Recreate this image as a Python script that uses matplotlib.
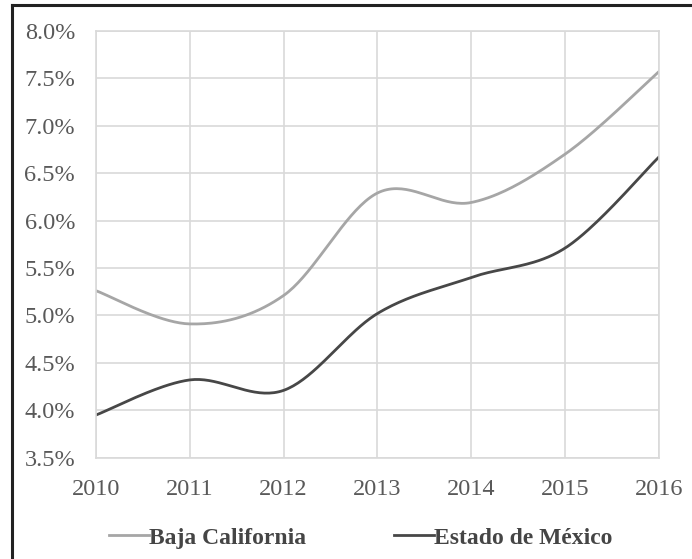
import numpy as np
import matplotlib
matplotlib.use("Agg")
import matplotlib.pyplot as plt
from matplotlib.lines import Line2D
from matplotlib.ticker import FuncFormatter

years = [2010, 2011, 2012, 2013, 2014, 2015, 2016]
baja_california = [5.26, 4.91, 5.21, 6.29, 6.19, 6.70, 7.57]
estado_de_mexico = [3.95, 4.32, 4.21, 5.02, 5.40, 5.71, 6.67]
y_ticks = [3.5, 4.0, 4.5, 5.0, 5.5, 6.0, 6.5, 7.0, 7.5, 8.0]


def smooth(x, y, steps=40):
    """Catmull-Rom style smoothing through every data point."""
    x = np.asarray(x, float)
    y = np.asarray(y, float)
    px = np.concatenate([[x[0]], x, [x[-1]]])
    py = np.concatenate([[y[0]], y, [y[-1]]])
    xs, ys = [], []
    t = np.linspace(0, 1, steps)
    for i in range(1, len(px) - 2):
        p0 = np.array([px[i], py[i]])
        p3 = np.array([px[i + 1], py[i + 1]])
        c1 = p0 + (np.array([px[i + 1], py[i + 1]]) - np.array([px[i - 1], py[i - 1]])) / 6
        c2 = p3 - (np.array([px[i + 2], py[i + 2]]) - np.array([px[i], py[i]])) / 6
        b = ((1 - t) ** 3)[:, None] * p0 + (3 * (1 - t) ** 2 * t)[:, None] * c1 \
            + (3 * (1 - t) * t ** 2)[:, None] * c2 + (t ** 3)[:, None] * p3
        xs.append(b[:, 0])
        ys.append(b[:, 1])
    return np.concatenate(xs), np.concatenate(ys)


plt.rcParams["font.family"] = ["Liberation Serif", "DejaVu Serif"]

fig = plt.figure(figsize=(6.92, 5.59), dpi=100)
ax = fig.add_axes([0.1387, 0.1812, 0.9523 - 0.1387, 0.945 - 0.1812])

grid = "#d9d9d9"
tick_col = "#595959"
light = "#a6a6a6"
dark = "#474747"

bx, by = smooth(years, baja_california)
ex, ey = smooth(years, estado_de_mexico)
ax.plot(bx, by, color=light, lw=2.0, solid_capstyle="round")
ax.plot(ex, ey, color=dark, lw=2.0, solid_capstyle="round")

ax.set_xlim(2010, 2016)
ax.set_ylim(3.5, 8.0)
ax.set_xticks(years)
ax.set_yticks(y_ticks)
ax.yaxis.set_major_formatter(FuncFormatter(lambda v, _: f"{v:.1f}%"))
ax.grid(True, color=grid, lw=1.2)
ax.set_axisbelow(True)
for spine in ax.spines.values():
    spine.set_color(grid)
    spine.set_linewidth(1.2)
ax.tick_params(length=0, labelsize=17.5, colors=tick_col)
ax.tick_params(axis="x", pad=15)
ax.tick_params(axis="y", pad=15)

# legend below the plot
handles = [
    Line2D([], [], color=light, lw=2.0),
    Line2D([], [], color=dark, lw=2.0),
]
leg = fig.legend(
    handles,
    ["Baja California", "Estado de México"],
    loc="center",
    bbox_to_anchor=(0.521, 0.038),
    ncol=2,
    frameon=False,
    handlelength=1.7,
    handletextpad=0.0,
    columnspacing=3.7,
    prop={"size": 17, "weight": "bold"},
)
for text in leg.get_texts():
    text.set_color("#454545")

# outer frame (top and left edges visible)
fig.add_artist(Line2D([12 / 692, 1.0], [1 - 5 / 559, 1 - 5 / 559],
                      transform=fig.transFigure, color="#222222", lw=2.2))
fig.add_artist(Line2D([12 / 692, 12 / 692], [0.0, 1 - 5 / 559],
                      transform=fig.transFigure, color="#222222", lw=2.2))

fig.savefig("out.png", dpi=100, facecolor="white")
